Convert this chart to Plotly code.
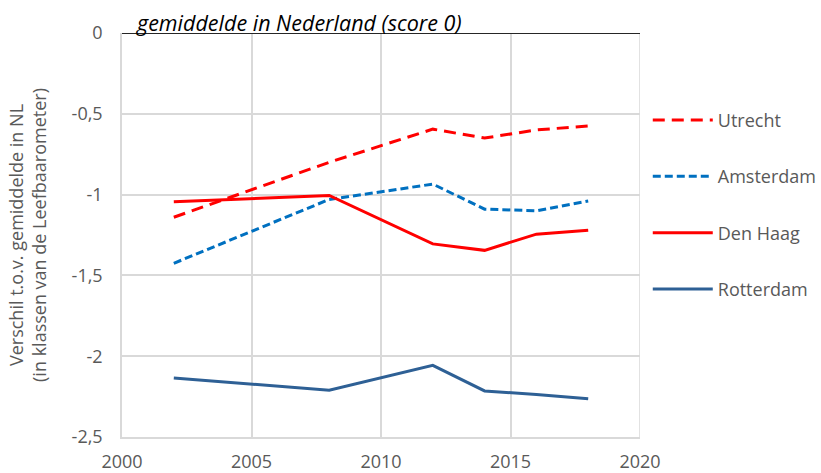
import plotly.graph_objects as go

years = [2002, 2008, 2012, 2014, 2016, 2018]
utrecht = [-1.14, -0.80, -0.595, -0.65, -0.60, -0.575]
amsterdam = [-1.425, -1.03, -0.935, -1.09, -1.10, -1.04]
den_haag = [-1.045, -1.005, -1.305, -1.345, -1.245, -1.22]
rotterdam = [-2.135, -2.21, -2.057, -2.215, -2.237, -2.263]

x_ticks = [2000, 2005, 2010, 2015, 2020]
y_ticks = [0, -0.5, -1, -1.5, -2, -2.5]
y_tick_labels = ["0", "-0,5", "-1", "-1,5", "-2", "-2,5"]

FONT = "Open Sans"
GREY = "#595959"
GRID = "#d9d9d9"

series = [
    ("Utrecht", utrecht, "#ff0000", "12px,7px"),
    ("Amsterdam", amsterdam, "#0070c0", "8px,4px"),
    ("Den Haag", den_haag, "#ff0000", "solid"),
    ("Rotterdam", rotterdam, "#2e6095", "solid"),
]

fig = go.Figure()
for i, (name, vals, color, dash) in enumerate(series):
    fig.add_trace(go.Scatter(
        x=years, y=vals, mode="lines", name=name, legendgroup=str(i),
        line=dict(color=color, width=3, dash=dash),
    ))

fig.update_layout(
    width=821, height=473,
    margin=dict(l=122, r=181, t=33, b=36, autoexpand=False),
    plot_bgcolor="white", paper_bgcolor="white",
    font=dict(family=FONT, color=GREY, size=16),
    showlegend=True,
    legend=dict(
        x=1.015, xanchor="left", y=0.83, yanchor="top",
        traceorder="grouped", tracegroupgap=30,
        font=dict(family=FONT, size=18, color=GREY),
        itemwidth=60, bgcolor="rgba(0,0,0,0)",
    ),
    xaxis=dict(
        range=[2000, 2020], tickvals=x_ticks, showgrid=True, automargin=False,
        gridcolor=GRID, gridwidth=1.5, showline=True, linecolor=GRID,
        linewidth=1.5, mirror=False, zeroline=False, ticks="",
        ticklabelstandoff=8,
        tickfont=dict(size=18, color=GREY, family=FONT),
    ),
    yaxis=dict(
        range=[-2.5, 0], tickvals=y_ticks, ticktext=y_tick_labels, automargin=False,
        showgrid=True, gridcolor=GRID, gridwidth=1.5, showline=True,
        linecolor=GRID, linewidth=1.5, zeroline=False, ticks="",
        ticklabelstandoff=14,
        tickfont=dict(size=18, color=GREY, family=FONT),
        title=dict(text="Verschil t.o.v. gemiddelde in NL<br>(in klassen van de Leefbaarometer)",
                   font=dict(size=18, color=GREY, family=FONT), standoff=20),
    ),
    shapes=[
        dict(type="line", xref="paper", x0=0, x1=1, yref="y", y0=0, y1=0,
             line=dict(color="#262626", width=2)),
        dict(type="line", xref="x", x0=2020, x1=2020, yref="paper", y0=0, y1=1,
             line=dict(color=GRID, width=1.5), layer="below"),
    ],
    annotations=[
        dict(text="<i>gemiddelde in Nederland (score 0)</i>", xref="paper", yref="paper",
             x=0.023, y=1, xanchor="left", yanchor="bottom", yshift=-6, showarrow=False,
             font=dict(size=21.5, color="black", family=FONT)),
    ],
)

fig.write_html("out.html", config={"displayModeBar": False},
               post_script="document.body.style.margin='0px';")
